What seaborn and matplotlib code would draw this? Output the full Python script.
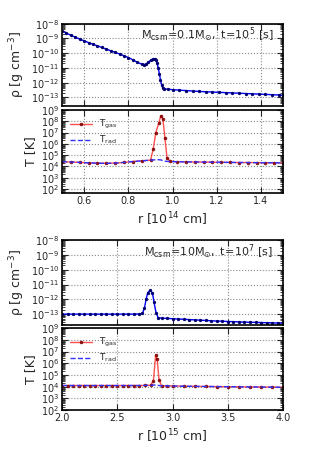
import numpy as np
import seaborn as sns
import matplotlib
matplotlib.use("Agg")
import matplotlib.pyplot as plt
from matplotlib.ticker import LogLocator, NullFormatter

# ---- panel 1: M_csm = 0.1 Msun, t = 1e5 s  (r in 1e14 cm, log10 values) ----
r1_rho = [0.50, 0.52, 0.54, 0.56, 0.58, 0.60, 0.62, 0.64, 0.66, 0.68, 0.70,
          0.72, 0.74, 0.76, 0.78, 0.80, 0.82, 0.84, 0.86, 0.87, 0.88, 0.89,
          0.90, 0.91, 0.92, 0.925, 0.93, 0.935, 0.94, 0.945, 0.95, 0.955,
          0.96, 0.98, 1.00, 1.03, 1.06, 1.09, 1.12, 1.15, 1.18, 1.21, 1.24,
          1.27, 1.30, 1.33, 1.36, 1.39, 1.42, 1.45, 1.48, 1.50]
lrho1 = [-8.50, -8.65, -8.79, -8.92, -9.05, -9.17, -9.29, -9.40, -9.51, -9.62,
         -9.73, -9.84, -9.95, -10.06, -10.18, -10.30, -10.45, -10.62, -10.75,
         -10.78, -10.74, -10.62, -10.48, -10.40, -10.40, -10.50, -10.70,
         -11.00, -11.40, -11.80, -12.15, -12.35, -12.42, -12.45, -12.48,
         -12.51, -12.54, -12.57, -12.60, -12.62, -12.64, -12.66, -12.68,
         -12.70, -12.72, -12.74, -12.76, -12.78, -12.80, -12.82, -12.84, -12.85]

r1_T = [0.50, 0.54, 0.58, 0.62, 0.66, 0.70, 0.74, 0.78, 0.82, 0.86, 0.90,
        0.912, 0.924, 0.937, 0.947, 0.956, 0.965, 0.975, 0.99, 1.02, 1.06,
        1.10, 1.14, 1.18, 1.22, 1.26, 1.30, 1.34, 1.38, 1.42, 1.46, 1.50]
lTgas1 = [4.42, 4.40, 4.36, 4.32, 4.29, 4.28, 4.30, 4.36, 4.44, 4.50, 4.56,
          5.52, 6.99, 7.82, 8.50, 8.20, 6.55, 4.72, 4.45, 4.42, 4.41, 4.40,
          4.39, 4.38, 4.37, 4.36, 4.35, 4.35, 4.34, 4.33, 4.33, 4.32]
lTrad1 = [4.42, 4.40, 4.36, 4.32, 4.29, 4.28, 4.30, 4.36, 4.44, 4.50, 4.56,
          4.58, 4.59, 4.60, 4.58, 4.52, 4.47, 4.45, 4.44, 4.42, 4.41, 4.40,
          4.39, 4.38, 4.37, 4.36, 4.35, 4.35, 4.34, 4.33, 4.33, 4.32]

# ---- panel 2: M_csm = 10 Msun, t = 1e7 s  (r in 1e15 cm) ----
r2_rho = [2.00, 2.05, 2.10, 2.15, 2.20, 2.25, 2.30, 2.35, 2.40, 2.45, 2.50,
          2.55, 2.60, 2.65, 2.70, 2.727, 2.745, 2.76, 2.775, 2.796, 2.817,
          2.832, 2.85, 2.87, 2.90, 2.95, 3.00, 3.05, 3.10, 3.15, 3.20, 3.25,
          3.30, 3.35, 3.40, 3.45, 3.50, 3.55, 3.60, 3.65, 3.70, 3.75, 3.80,
          3.85, 3.90, 3.95, 4.00]
lrho2 = [-13.00, -13.00, -13.00, -13.00, -13.00, -13.00, -13.00, -13.00,
         -13.00, -13.00, -13.00, -13.00, -13.00, -13.00, -12.99, -12.95,
         -12.60, -12.00, -11.55, -11.38, -11.55, -12.20, -12.90, -13.25,
         -13.27, -13.29, -13.31, -13.33, -13.35, -13.37, -13.39, -13.41,
         -13.43, -13.45, -13.47, -13.48, -13.50, -13.51, -13.53, -13.54,
         -13.55, -13.56, -13.57, -13.58, -13.59, -13.60, -13.61]

r2_T = [2.00, 2.05, 2.10, 2.15, 2.20, 2.25, 2.30, 2.35, 2.40, 2.45, 2.50,
        2.55, 2.60, 2.65, 2.70, 2.75, 2.80, 2.826, 2.847, 2.86, 2.877, 2.90,
        2.95, 3.00, 3.10, 3.20, 3.30, 3.40, 3.50, 3.60, 3.70, 3.80, 3.90, 4.00]
lTgas2 = [4.10, 4.10, 4.10, 4.10, 4.10, 4.10, 4.10, 4.10, 4.10, 4.10, 4.10,
          4.10, 4.10, 4.10, 4.10, 4.11, 4.12, 4.50, 6.70, 6.35, 4.60, 4.08,
          4.07, 4.06, 4.04, 4.03, 4.02, 4.01, 4.00, 3.99, 3.98, 3.97, 3.96, 3.95]
lTrad2 = [4.10, 4.10, 4.10, 4.10, 4.10, 4.10, 4.10, 4.10, 4.10, 4.10, 4.10,
          4.10, 4.10, 4.10, 4.10, 4.11, 4.12, 4.14, 4.15, 4.13, 4.10, 4.08,
          4.07, 4.06, 4.04, 4.03, 4.02, 4.01, 4.00, 3.99, 3.98, 3.97, 3.96, 3.95]

panels = [
    dict(r_rho=r1_rho, rho=lrho1, r_T=r1_T, tg=lTgas1, tr=lTrad1,
         xlim=(0.5, 1.5), xticks=[0.6, 0.8, 1.0, 1.2, 1.4],
         rho_lim=(10**-13.6, 1e-8), T_lim=(10**1.65, 1e9),
         xlabel=r'r [$10^{14}$ cm]',
         label=r'$\mathrm{M_{csm}\!=\!0.1M_{\odot},\ t\!=\!10^5\ [s]}$',
         box_rho=[0.197, 0.775, 0.702, 0.175], box_T=[0.197, 0.591, 0.702, 0.176]),
    dict(r_rho=r2_rho, rho=lrho2, r_T=r2_T, tg=lTgas2, tr=lTrad2,
         xlim=(2.0, 4.0), xticks=[2.0, 2.5, 3.0, 3.5, 4.0],
         rho_lim=(10**-13.75, 1e-8), T_lim=(1e2, 1e9),
         xlabel=r'r [$10^{15}$ cm]',
         label=r'$\mathrm{M_{csm}\!=\!10M_{\odot},\ t\!=\!10^7\ [s]}$',
         box_rho=[0.197, 0.311, 0.702, 0.180], box_T=[0.197, 0.131, 0.702, 0.174]),
]

sns.set_style("ticks")
plt.rcParams['font.family'] = ['DejaVu Sans']
plt.rcParams['axes.linewidth'] = 1.2

fig = plt.figure(figsize=(3.15, 4.72), dpi=100)


def style_axis(ax, p):
    ax.set_yscale('log')
    ax.set_xlim(*p['xlim'])
    ax.set_xticks(p['xticks'])
    ax.yaxis.set_minor_locator(LogLocator(base=10, subs=np.arange(2, 10), numticks=100))
    ax.yaxis.set_minor_formatter(NullFormatter())
    ax.grid(True, which='major', ls=':', color='#888888', lw=0.8)
    ax.tick_params(which='both', direction='in', top=True, right=True,
                   labelsize=7, pad=2)
    ax.tick_params(which='major', length=4)
    ax.tick_params(which='minor', length=2, width=0.6)
    for s in ax.spines.values():
        s.set_color('black')


for p in panels:
    ax_rho = fig.add_axes(p['box_rho'])
    ax_T = fig.add_axes(p['box_T'])

    sns.lineplot(x=p['r_rho'], y=np.power(10.0, p['rho']), ax=ax_rho,
                 color='blue', lw=1.0, marker='o', markersize=1.6,
                 markerfacecolor='#000070', markeredgecolor='#000070')
    style_axis(ax_rho, p)
    ax_rho.set_ylim(*p['rho_lim'])
    ax_rho.set_yticks([1e-8, 1e-9, 1e-10, 1e-11, 1e-12, 1e-13])
    ax_rho.set_xticklabels([])
    ax_rho.set_ylabel('ρ [g cm$^{-3}$]', fontsize=9, labelpad=3)
    ax_rho.text(0.955, 0.86, p['label'], transform=ax_rho.transAxes,
                ha='right', va='center', fontsize=8)

    sns.lineplot(x=p['r_T'], y=np.power(10.0, p['tg']), ax=ax_T,
                 color='#ff3030', lw=1.0, alpha=0.85, marker='o', markersize=1.8,
                 markerfacecolor='#800000', markeredgecolor='#800000',
                 label=r'$\mathrm{T_{gas}}$')
    sns.lineplot(x=p['r_T'], y=np.power(10.0, p['tr']), ax=ax_T,
                 color='#3030ff', lw=1.0, ls='--',
                 label=r'$\mathrm{T_{rad}}$')
    style_axis(ax_T, p)
    ax_T.set_ylim(*p['T_lim'])
    ax_T.set_yticks([10.0**k for k in range(2, 10)])
    ax_T.set_ylabel('T [K]', fontsize=9, labelpad=3)
    ax_T.set_xlabel(p['xlabel'], fontsize=9, labelpad=3)
    ax_T.legend(loc='upper left', frameon=False, fontsize=6.5, handlelength=2.4,
                borderaxespad=0.5, labelspacing=0.3, numpoints=1)

fig.savefig('out.png', dpi=100)
